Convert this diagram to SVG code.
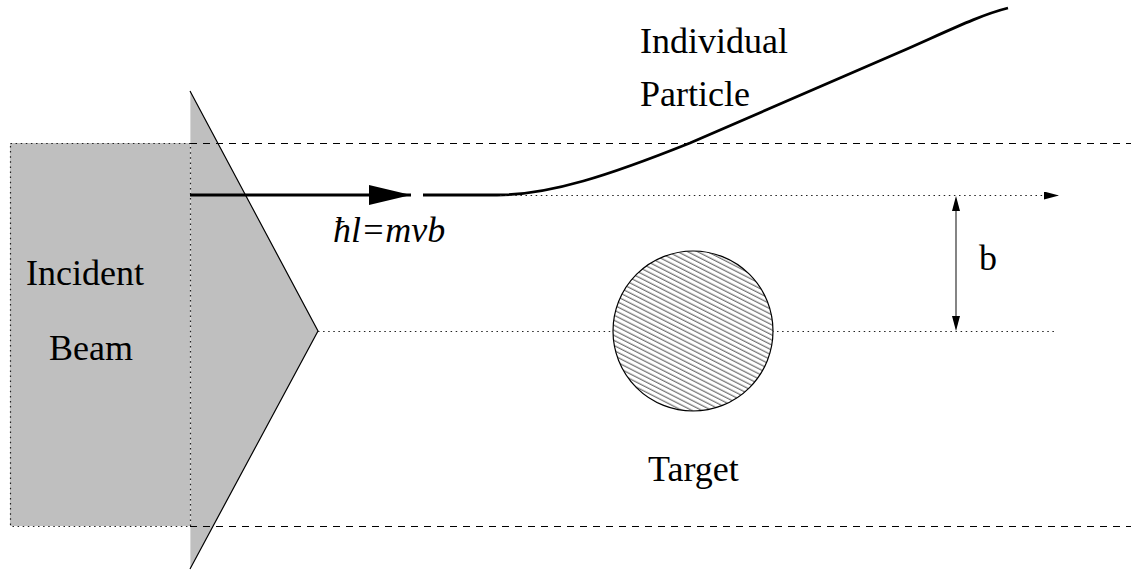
<svg xmlns="http://www.w3.org/2000/svg" width="1131" height="570" viewBox="0 0 1131 570">
<style>
.lbl{font-family:"Liberation Serif","Times New Roman",serif;font-size:36px;fill:#000}
.dot{stroke:#222;stroke-width:1.2;stroke-dasharray:1.5 3.6;fill:none}
.dash{stroke:#000;stroke-width:1;stroke-dasharray:7 6;fill:none}
</style>
<defs>
<pattern id="hatch" width="10" height="4.5" patternUnits="userSpaceOnUse" patternTransform="rotate(27)">
<line x1="0" y1="2" x2="10" y2="2" stroke="#333" stroke-width="0.9"/>
</pattern>
<marker id="bigHead" markerWidth="42" markerHeight="22" refX="42" refY="11" orient="auto" markerUnits="userSpaceOnUse">
<path d="M0,1 L42,11 L0,21 Z" fill="#000"/>
</marker>
<marker id="smallHead" markerWidth="15" markerHeight="8" refX="15" refY="4" orient="auto" markerUnits="userSpaceOnUse">
<path d="M0,0 L15,4 L0,8 Z" fill="#000"/>
</marker>
</defs>
<rect width="1131" height="570" fill="#fff"/>

<g id="beam">
<rect x="10" y="143" width="180" height="383" fill="#bfbfbf"/>
<polygon points="190,91 318,331 190,569" fill="#bfbfbf"/>
<line x1="190.5" y1="91" x2="190.5" y2="569" stroke="#d8d8d8" stroke-width="1"/>
<polyline points="190,91 318,331 190,569" fill="none" stroke="#000" stroke-width="1.2"/>
<rect x="10.5" y="143.5" width="180" height="383" class="dot"/>
<text class="lbl" x="26" y="285">Incident</text>
<text class="lbl" x="49" y="360">Beam</text>
</g>

<g id="connectors">
<line class="dash" x1="190" y1="143.5" x2="1131" y2="143.5"/>
<line class="dash" x1="190" y1="526.5" x2="1131" y2="526.5"/>
<line x1="190" y1="195" x2="411" y2="195" stroke="#000" stroke-width="2.8" marker-end="url(#bigHead)"/>
<path d="M423,195 L497,195 C550,195 610,175 690,143 L900,52 C950,30 980,15 1008,8" fill="none" stroke="#000" stroke-width="2.8"/>
<line class="dot" x1="500" y1="195.5" x2="1059" y2="195.5" marker-end="url(#smallHead)"/>
<line class="dot" x1="318" y1="331.5" x2="1057" y2="331.5"/>
<line x1="956" y1="210" x2="956" y2="316" stroke="#666" stroke-width="1.6"/>
<path d="M952,211 L956,196 L960,211 Z" fill="#000"/>
<path d="M952,316 L956,331 L960,316 Z" fill="#000"/>
</g>

<g id="target">
<circle cx="693" cy="331" r="80" fill="#fff"/>
<circle cx="693" cy="331" r="80" fill="url(#hatch)" stroke="#000" stroke-width="1.2"/>
<text class="lbl" x="648" y="481">Target</text>
</g>

<g id="particle">
<text class="lbl" x="640" y="53">Individual</text>
<text class="lbl" x="640" y="106">Particle</text>
</g>

<g id="formula">
<text class="lbl" x="333" y="242" font-style="italic">ħl=mvb</text>
</g>

<g id="impact">
<text class="lbl" x="979" y="270">b</text>
</g>
</svg>
